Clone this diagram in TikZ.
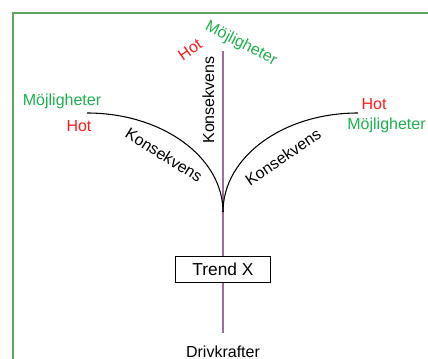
\documentclass[tikz,border=0pt]{standalone}
\usepackage{fontspec}
\setmainfont{Liberation Sans}
\definecolor{framegreen}{HTML}{5FA55F}
\definecolor{optgreen}{HTML}{1DB04F}
\definecolor{threatred}{HTML}{FF1A1A}
\definecolor{stem}{HTML}{9C7095}
\begin{document}
\begin{tikzpicture}[x=0.75pt,y=-0.75pt,
  lbl/.style={inner sep=0pt,font=\fontsize{12}{14}\selectfont},
  opp/.style={lbl,text=optgreen},
  thr/.style={lbl,text=threatred},
  cons/.style={lbl,text=black},
  trendbox/.style={draw,line width=0.9pt,minimum width=71pt,minimum height=20pt,inner sep=0pt,font=\fontsize{13}{15}\selectfont},
  curve/.style={line width=0.8pt,black},
  stemline/.style={line width=1pt,stem}]
\useasboundingbox (0,0) rectangle (428,359);
\draw[framegreen,line width=1.4pt] (13,380) -- (13,13) -- (440,13);
% stem
\coordinate (top) at (223,51);
\coordinate (bot) at (223,333);
\coordinate (join) at (223,212);
\coordinate (lend) at (87,113);
\coordinate (rend) at (358,113);
\draw[stemline] (top) -- (bot);
\node[trendbox,fill=white] (trend) at (223,269.5) {Trend X};
\node[lbl] (driv) at (223,352) {Drivkrafter};
% curves
\draw[curve] (lend) .. controls (162,113) and (223,157) .. (join);
\draw[curve] (rend) .. controls (283,113) and (223,157) .. (join);
% labels
\node[opp] (lmoj) at (62,101) {Möjligheter};
\node[thr] (lhot) at (79,126) {Hot};
\node[thr] (rhot) at (374,104) {Hot};
\node[opp] (rmoj) at (386.5,125) {Möjligheter};
\node[thr,rotate=35] (thot) at (190,50) {Hot};
\node[opp,rotate=-27] (tmoj) at (241,44) {Möjligheter};
\node[cons,rotate=90] (tcons) at (208.5,100) {Konsekvens};
\node[cons,rotate=-32] (lcons) at (164,155) {Konsekvens};
\node[cons,rotate=34] (rcons) at (283,157) {Konsekvens};
\end{tikzpicture}
\end{document}
